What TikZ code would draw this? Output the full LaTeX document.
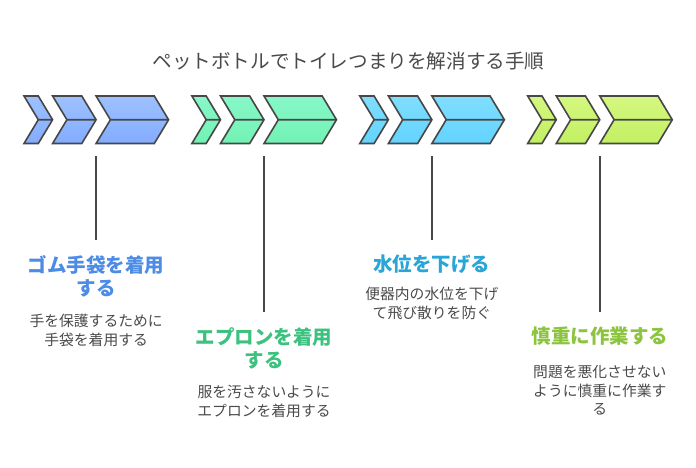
\documentclass[tikz,border=0pt]{standalone}
\usepackage{fontspec}
\newfontfamily\jpfont{Noto Sans CJK JP}
\definecolor{edge}{HTML}{474747}
\definecolor{textgray}{HTML}{4A4A4A}
\definecolor{bluetop}{HTML}{9DC1FF}
\definecolor{bluebot}{HTML}{84ACFF}
\definecolor{greentop}{HTML}{88F7C8}
\definecolor{greenbot}{HTML}{72F2B4}
\definecolor{cyantop}{HTML}{80DEFF}
\definecolor{cyanbot}{HTML}{62D3FF}
\definecolor{limetop}{HTML}{D5F780}
\definecolor{limebot}{HTML}{C2F062}
\definecolor{bluetext}{HTML}{4C8BE6}
\definecolor{greentext}{HTML}{3CC17F}
\definecolor{cyantext}{HTML}{2AA6D6}
\definecolor{limetext}{HTML}{8CC43F}

\begin{document}
\begin{tikzpicture}[x=1pt, y=-1pt]
          \tikzstyle{chevron}=[draw=edge, line width=1.6pt, line join=miter]
          \tikzstyle{bluechev}=[chevron, top color=bluetop, bottom color=bluebot]
          \tikzstyle{greenchev}=[chevron, top color=greentop, bottom color=greenbot]
          \tikzstyle{cyanchev}=[chevron, top color=cyantop, bottom color=cyanbot]
          \tikzstyle{limechev}=[chevron, top color=limetop, bottom color=limebot]
          \tikzstyle{stepline}=[draw=edge, line width=1.6pt, shorten >=15pt]
          \tikzstyle{steptitle}=[anchor=north, inner sep=0pt, align=center, font=\jpfont\bfseries\fontsize{19.5}{23}\selectfont]
          \tikzstyle{stepdesc}=[anchor=north, inner sep=0pt, align=center, text=textgray, font=\jpfont\fontsize{14.8}{18.6}\selectfont]

          \useasboundingbox (0, 0) rectangle (696, 468);

          \node (title) at (348.5, 51.5) [anchor=north, inner sep=0pt, text=textgray, font=\jpfont\fontsize{19.6}{23}\selectfont] {ペットボトルでトイレつまりを解消する手順};

          % gloves
          \draw[bluechev] (24, 96) -- (38.3, 96) -- (52.6, 119.75) -- (38.3, 143.5) -- (24, 143.5) -- (38.3, 119.75) -- cycle (38.3, 119.75) -- (52.6, 119.75);
          \draw[bluechev] (52.6, 96) -- (81.8, 96) -- (96.1, 119.75) -- (81.8, 143.5) -- (52.6, 143.5) -- (66.9, 119.75) -- cycle (66.9, 119.75) -- (96.1, 119.75);
          \draw[bluechev] (96.1, 96) -- (154.3, 96) -- (168.6, 119.75) -- (154.3, 143.5) -- (96.1, 143.5) -- (110.4, 119.75) -- cycle (110.4, 119.75) -- (168.6, 119.75);
          \coordinate (gloves) at (96.1, 156);
          \node (gloveslabel) at (96.1, 255) [steptitle, text=bluetext] {ゴム手袋を着用\\する};
          \node (glovesdesc) at (96.1, 314) [stepdesc] {手を保護するために\\手袋を着用する};

          % apron
          \draw[greenchev] (191.9, 96) -- (206.2, 96) -- (220.5, 119.75) -- (206.2, 143.5) -- (191.9, 143.5) -- (206.2, 119.75) -- cycle (206.2, 119.75) -- (220.5, 119.75);
          \draw[greenchev] (220.5, 96) -- (249.7, 96) -- (264.0, 119.75) -- (249.7, 143.5) -- (220.5, 143.5) -- (234.8, 119.75) -- cycle (234.8, 119.75) -- (264.0, 119.75);
          \draw[greenchev] (264.0, 96) -- (322.2, 96) -- (336.5, 119.75) -- (322.2, 143.5) -- (264.0, 143.5) -- (278.3, 119.75) -- cycle (278.3, 119.75) -- (336.5, 119.75);
          \coordinate (apron) at (264.0, 156);
          \node (apronlabel) at (264.0, 327) [steptitle, text=greentext] {エプロンを着用\\する};
          \node (aprondesc) at (264.0, 385) [stepdesc] {服を汚さないように\\エプロンを着用する};

          % water level
          \draw[cyanchev] (359.8, 96) -- (374.1, 96) -- (388.4, 119.75) -- (374.1, 143.5) -- (359.8, 143.5) -- (374.1, 119.75) -- cycle (374.1, 119.75) -- (388.4, 119.75);
          \draw[cyanchev] (388.4, 96) -- (417.6, 96) -- (431.9, 119.75) -- (417.6, 143.5) -- (388.4, 143.5) -- (402.7, 119.75) -- cycle (402.7, 119.75) -- (431.9, 119.75);
          \draw[cyanchev] (431.9, 96) -- (490.1, 96) -- (504.4, 119.75) -- (490.1, 143.5) -- (431.9, 143.5) -- (446.2, 119.75) -- cycle (446.2, 119.75) -- (504.4, 119.75);
          \coordinate (water) at (431.9, 156);
          \node (waterlabel) at (431.9, 255) [steptitle, text=cyantext] {水位を下げる};
          \node (waterdesc) at (431.9, 287) [stepdesc] {便器内の水位を下げ\\て飛び散りを防ぐ};

          % careful work
          \draw[limechev] (527.7, 96) -- (542.0, 96) -- (556.3, 119.75) -- (542.0, 143.5) -- (527.7, 143.5) -- (542.0, 119.75) -- cycle (542.0, 119.75) -- (556.3, 119.75);
          \draw[limechev] (556.3, 96) -- (585.5, 96) -- (599.8, 119.75) -- (585.5, 143.5) -- (556.3, 143.5) -- (570.6, 119.75) -- cycle (570.6, 119.75) -- (599.8, 119.75);
          \draw[limechev] (599.8, 96) -- (658.0, 96) -- (672.3, 119.75) -- (658.0, 143.5) -- (599.8, 143.5) -- (614.1, 119.75) -- cycle (614.1, 119.75) -- (672.3, 119.75);
          \coordinate (careful) at (599.8, 156);
          \node (carefullabel) at (599.8, 327) [steptitle, text=limetext] {慎重に作業する};
          \node (carefuldesc) at (599.8, 365) [stepdesc] {問題を悪化させない\\ように慎重に作業す\\る};

          \draw[stepline] (gloves) -- (gloveslabel.north);
          \draw[stepline] (apron) -- (apronlabel.north);
          \draw[stepline] (water) -- (waterlabel.north);
          \draw[stepline] (careful) -- (carefullabel.north);
        \end{tikzpicture}
\end{document}
